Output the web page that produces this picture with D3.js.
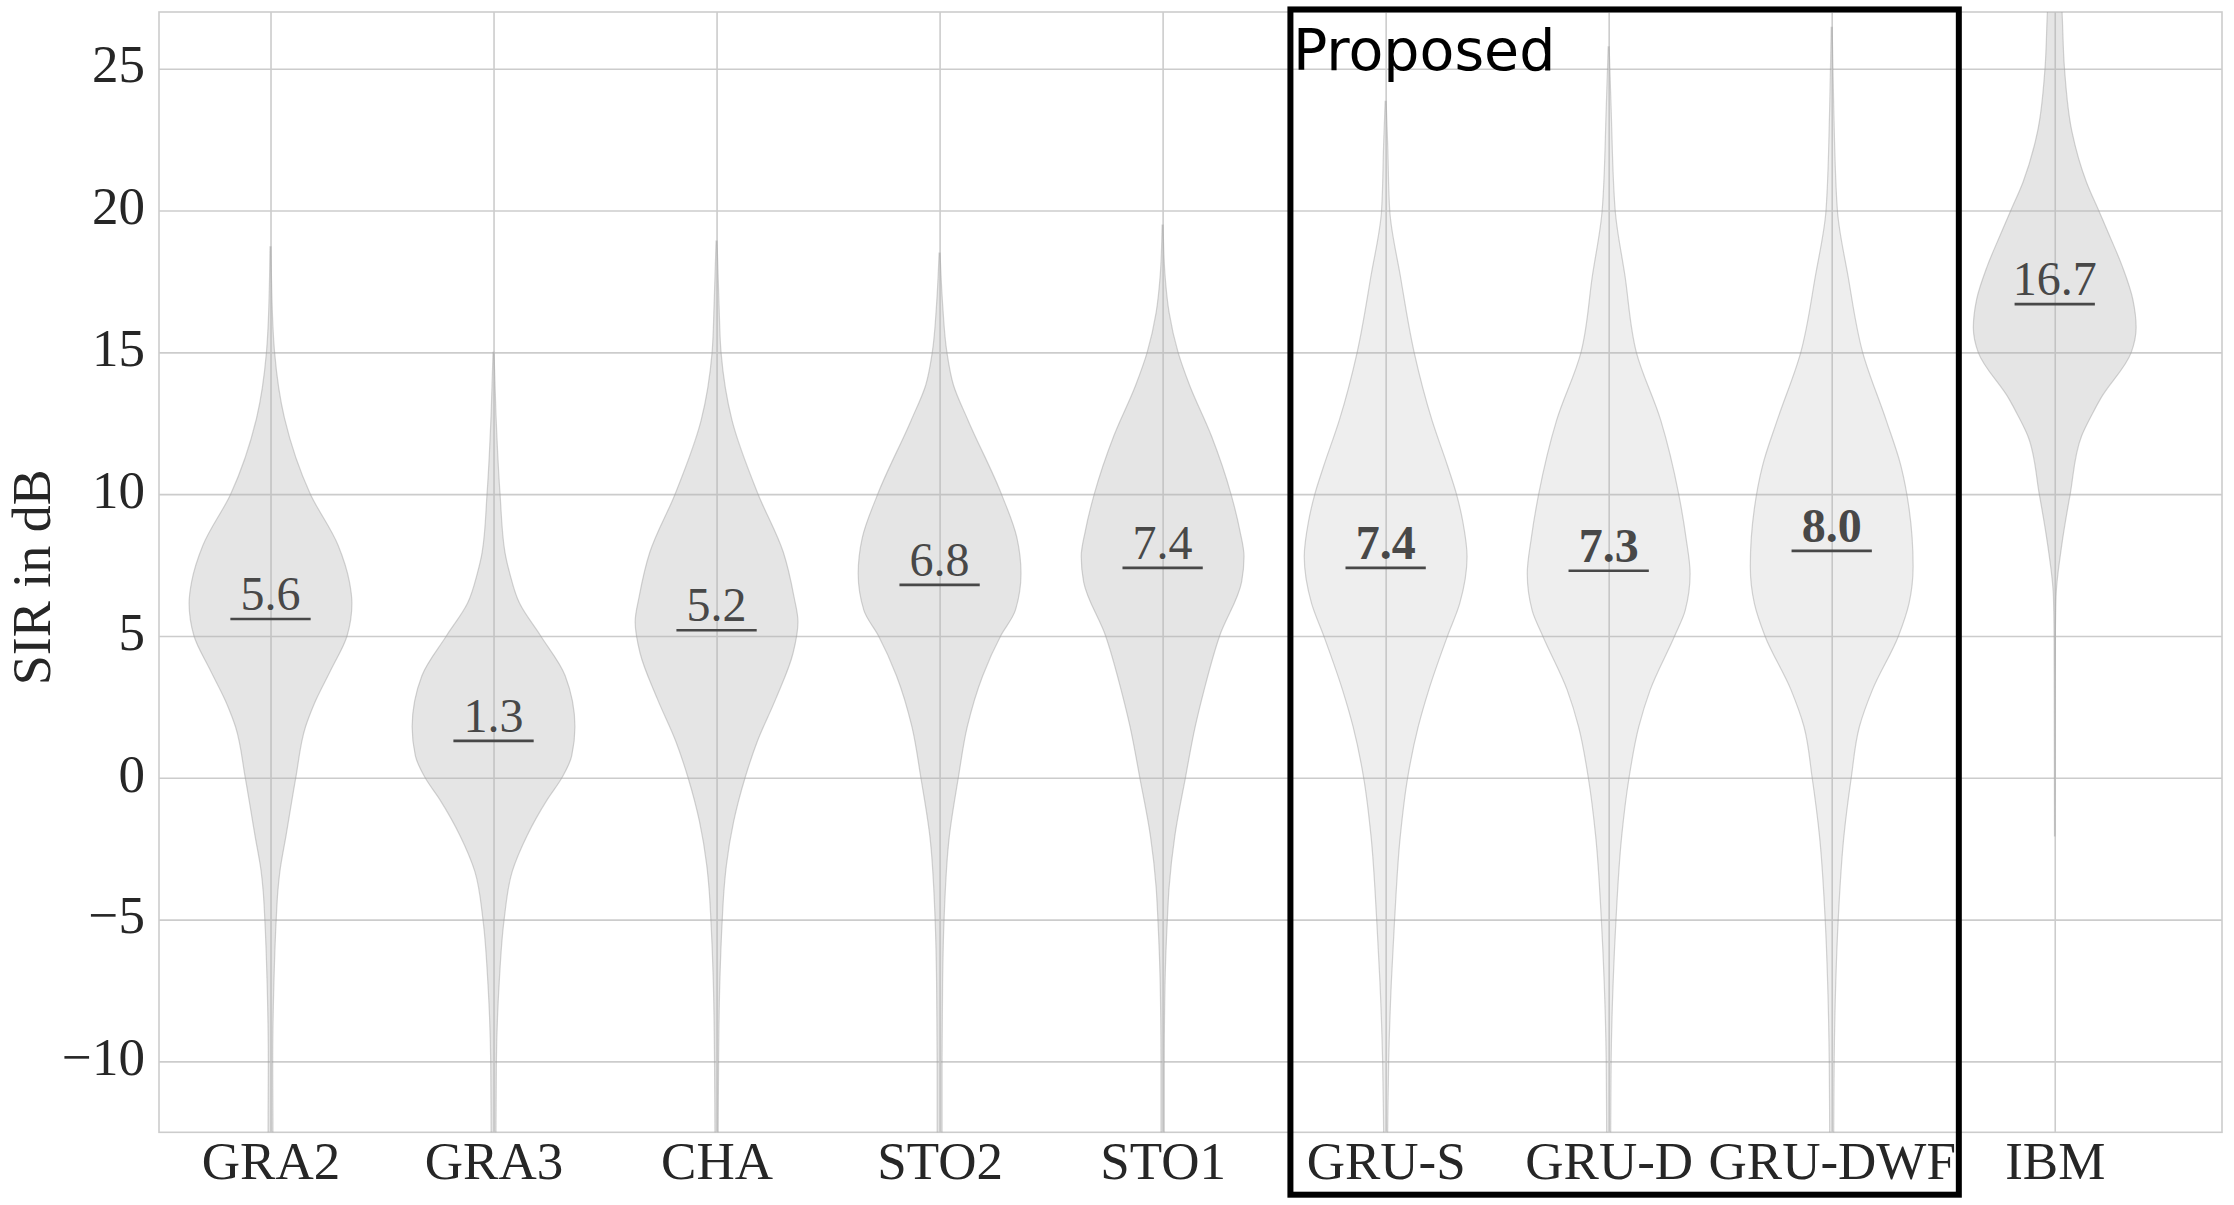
<!DOCTYPE html>
<html>
<head>
<meta charset="utf-8">
<script src="https://cdn.jsdelivr.net/npm/d3@7/dist/d3.min.js"></script>
<style>
  html, body { margin: 0; padding: 0; background: #ffffff; }
  svg { display: block; }
</style>
</head>
<body>
<svg id="chart" width="2234" height="1205"></svg>
<script>
// ---------------- data ----------------
const categories = ["GRA2", "GRA3", "CHA", "STO2", "STO1", "GRU-S", "GRU-D", "GRU-DWF", "IBM"];
const medians    = [5.6, 1.3, 5.2, 6.8, 7.4, 7.4, 7.3, 8.0, 16.7];
const proposed   = [false, false, false, false, false, true, true, true, false];
const yTicks     = [-10, -5, 0, 5, 10, 15, 20, 25];
const yLabel     = "SIR in dB";
const boxLabel   = "Proposed";

// violin outlines: [SIR value in dB, relative half-width]
const violinGRA2 = [[-16,0.015],[-12.44,0.03],[-10,0.027],[-7.2,0.042],[-5,0.07],[-4,0.09],[-3.3,0.115],[-2.05,0.19],[0,0.31],[1.8,0.43],[2.56,0.53],[3.85,0.75],[5.0,0.94],[6.15,1.0],[6.9,0.97],[8.2,0.83],[10,0.49],[12.7,0.17],[15,0.05],[15.9,0.03],[18.72,0.006]];
const violinGRA3 = [[-16,0.015],[-12.44,0.03],[-10,0.035],[-7.2,0.07],[-5,0.13],[-3.3,0.23],[-2.05,0.41],[-0.77,0.66],[0,0.84],[0.77,0.96],[1.8,1.0],[3.6,0.88],[5,0.58],[6.15,0.32],[7.2,0.2],[7.95,0.14],[10,0.08],[12.8,0.03],[15.0,0.006]];
const violinCHA  = [[-16,0.015],[-12.44,0.02],[-10,0.025],[-7.2,0.04],[-5,0.07],[-4,0.09],[-3.1,0.12],[-1.54,0.21],[0,0.35],[1.28,0.5],[2.8,0.73],[4.4,0.94],[5.5,1.0],[6.4,0.95],[7.95,0.82],[10,0.51],[12.6,0.19],[15,0.055],[16.7,0.03],[18.92,0.006]];
const violinSTO2 = [[-16,0.02],[-12.44,0.03],[-10,0.03],[-7.2,0.037],[-5,0.055],[-2.05,0.12],[0,0.23],[1.8,0.34],[3.6,0.53],[5,0.75],[5.9,0.93],[7.2,1.0],[8.46,0.95],[10,0.76],[12.6,0.35],[13.85,0.17],[15,0.09],[16.7,0.037],[18.5,0.006]];
const violinSTO1 = [[-16,0.015],[-12.44,0.02],[-10,0.02],[-7.2,0.03],[-5,0.058],[-3.85,0.08],[-2.05,0.15],[0,0.28],[1.8,0.4],[3.1,0.51],[5,0.7],[6.9,0.97],[7.8,1.0],[8.7,0.95],[10,0.84],[12.05,0.6],[13.85,0.33],[15,0.19],[16.4,0.08],[17.7,0.03],[19.49,0.006]];
const violinGRUS = [[-16,0.015],[-12.44,0.025],[-10,0.037],[-7.2,0.07],[-5,0.11],[-2.05,0.18],[0,0.27],[1.8,0.4],[3.1,0.53],[5,0.76],[6.15,0.91],[7.8,1.0],[9,0.95],[10,0.87],[11,0.76],[12.6,0.57],[15,0.35],[17.7,0.18],[20,0.05],[22.3,0.025],[23.85,0.006]];
const violinGRUD = [[-16,0.015],[-12.44,0.025],[-10,0.03],[-7.2,0.055],[-5,0.09],[-2.05,0.16],[0,0.25],[1.8,0.37],[3.1,0.51],[5,0.81],[5.9,0.94],[7.2,1.0],[8.46,0.95],[10,0.86],[12.6,0.64],[15,0.34],[17.7,0.2],[20,0.08],[23.6,0.03],[25.77,0.006]];
const violinGRUDWF = [[-16,0.015],[-12.44,0.025],[-10,0.03],[-7.2,0.05],[-5,0.08],[-2.05,0.15],[0,0.24],[1.8,0.34],[3.1,0.5],[5,0.82],[6.15,0.95],[7.45,1.0],[9.5,0.95],[11,0.85],[12.6,0.67],[15,0.38],[17.7,0.2],[20,0.07],[23.6,0.025],[26.46,0.006]];
const violinIBM  = [[-2.05,0.003],[3.0,0.006],[5.0,0.008],[6.4,0.016],[8.2,0.086],[10,0.19],[12.05,0.33],[12.82,0.46],[13.35,0.56],[15,0.94],[15.87,1.0],[16.86,0.96],[18.03,0.83],[19.2,0.66],[20,0.54],[21,0.39],[22.8,0.21],[25,0.12],[27,0.09],[28.5,0.06],[30,0.02]];
const violins = [violinGRA2, violinGRA3, violinCHA, violinSTO2, violinSTO1, violinGRUS, violinGRUD, violinGRUDWF, violinIBM];

// ---------------- layout ----------------
const W = 2234, H = 1205;
const plot = { left: 159, right: 2222, top: 12, bottom: 1132.3 };
const violinHalf = 0.365;   // in category units
const medianHalf = 0.18;    // in category units
const box = { x0: 5.573, x1: 8.57, y0: -14.7, y1: 27.09 };

const svg = d3.select("#chart");
svg.append("rect").attr("width", W).attr("height", H).attr("fill", "#ffffff");

const x = d3.scaleLinear().domain([0.5, 9.75]).range([plot.left, plot.right]);
const y = d3.scaleLinear().domain([-12.5, 27]).range([plot.bottom, plot.top]);
const plotW = plot.right - plot.left, plotH = plot.bottom - plot.top;

const fmtTick = v => v < 0 ? "\u2212" + Math.abs(v) : String(v);
const serif = "'Liberation Serif', 'Times New Roman', serif";

// grid + axes
const yAxis = d3.axisLeft(y).tickValues(yTicks).tickSize(-plotW).tickPadding(14).tickFormat(fmtTick);
const gy = svg.append("g").attr("transform", `translate(${plot.left},0)`).call(yAxis);
gy.select(".domain").remove();
gy.selectAll(".tick line").attr("stroke", "#cccccc").attr("stroke-width", 1.6);
gy.selectAll(".tick text")
  .attr("fill", "#262626").attr("dy", "0.25em")
  .style("font-family", serif)
  .style("font-size", "53px");

const xAxis = d3.axisBottom(x).tickValues(d3.range(1, categories.length + 1))
  .tickSize(-plotH).tickPadding(9).tickFormat(i => categories[i - 1]);
const gx = svg.append("g").attr("transform", `translate(0,${plot.bottom})`).call(xAxis);
gx.select(".domain").remove();
gx.selectAll(".tick line").attr("stroke", "#cccccc").attr("stroke-width", 1.6);
gx.selectAll(".tick text")
  .attr("fill", "#262626").attr("dy", "0.71em")
  .style("font-family", serif)
  .style("font-size", "53px");

// frame
svg.append("rect")
  .attr("x", plot.left).attr("y", plot.top).attr("width", plotW).attr("height", plotH)
  .attr("fill", "none").attr("stroke", "#cccccc").attr("stroke-width", 1.6);

// clip
svg.append("clipPath").attr("id", "plotclip")
  .append("rect").attr("x", plot.left).attr("y", plot.top).attr("width", plotW).attr("height", plotH);

// violins
const gv = svg.append("g").attr("clip-path", "url(#plotclip)");
violins.forEach((prof, i) => {
  const pos = i + 1;
  const area = d3.area()
    .y(d => y(d[0]))
    .x0(d => x(pos - d[1] * violinHalf))
    .x1(d => x(pos + d[1] * violinHalf))
    .curve(d3.curveMonotoneY);
  gv.append("path")
    .datum(prof)
    .attr("d", area)
    .attr("fill", "rgb(180,180,180)")
    .attr("fill-opacity", proposed[i] ? 0.227 : 0.347)
    .attr("stroke", "rgb(160,160,160)")
    .attr("stroke-opacity", 0.45)
    .attr("stroke-width", 1.2);
});

// median marks and labels
medians.forEach((m, i) => {
  const pos = i + 1;
  svg.append("line")
    .attr("x1", x(pos - medianHalf)).attr("x2", x(pos + medianHalf))
    .attr("y1", y(m)).attr("y2", y(m))
    .attr("stroke", "#484848").attr("stroke-width", 2.6);
  svg.append("text")
    .attr("x", x(pos)).attr("y", y(m) - 9)
    .attr("text-anchor", "middle")
    .attr("fill", "#484848")
    .style("font-family", serif)
    .style("font-size", "48px")
    .style("font-weight", proposed[i] ? "bold" : "normal")
    .text(m.toFixed(1));
});

// proposed box
svg.append("rect")
  .attr("x", x(box.x0)).attr("y", y(box.y1))
  .attr("width", x(box.x1) - x(box.x0)).attr("height", y(box.y0) - y(box.y1))
  .attr("fill", "none").attr("stroke", "#000000").attr("stroke-width", 6);
svg.append("text")
  .attr("x", x(box.x0) + 2.5).attr("y", 70)
  .attr("fill", "#000000")
  .style("font-family", "'DejaVu Sans', sans-serif")
  .style("font-size", "57px")
  .text(boxLabel);

// y label
svg.append("text")
  .attr("transform", `translate(50,${(plot.top + plot.bottom) / 2 + 5}) rotate(-90)`)
  .attr("text-anchor", "middle")
  .attr("fill", "#262626")
  .style("font-family", serif)
  .style("font-size", "54px")
  .text(yLabel);
</script>
</body>
</html>
